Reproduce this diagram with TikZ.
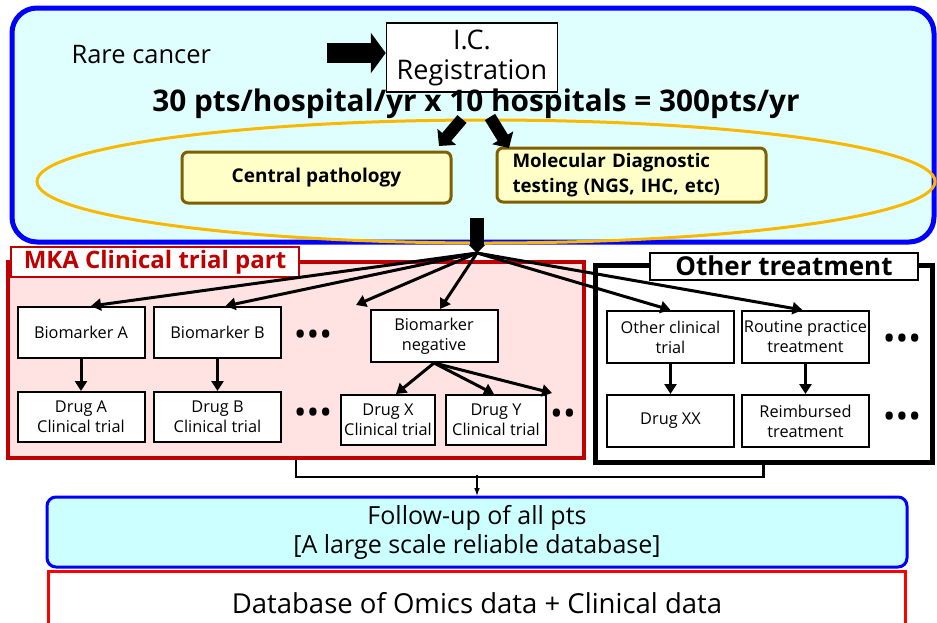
\documentclass[tikz,border=0pt]{standalone}
\usepackage{fontspec}
\setmainfont{Open Sans}
\usetikzlibrary{arrows.meta}
\tikzset{>=latex}
\usepackage{xcolor}
\definecolor{skyfill}{HTML}{DFFFFF}
\definecolor{followfill}{HTML}{CCFFFF}
\definecolor{mkared}{HTML}{C00000}
\definecolor{mkafill}{HTML}{FFE3E3}
\definecolor{olive}{HTML}{7F6000}
\definecolor{paleyel}{HTML}{FFFFC8}
\definecolor{gold}{HTML}{F8B800}
\tikzstyle{box}=[draw,line width=2pt,fill=white,align=center,inner sep=0pt,
  font=\fontsize{16.3}{20}\selectfont]
\tikzstyle{ybox}=[draw=olive,line width=3pt,fill=paleyel,rounded corners=6pt,
  inner sep=0pt,font=\bfseries\fontsize{19}{22}\selectfont]
\tikzstyle{fan}=[-{Triangle[length=10pt,width=12pt]},line width=3pt]
\tikzstyle{fat}=[line width=12pt,-{Triangle[length=12pt,width=24pt]}]
\tikzstyle{more}=[inner sep=0pt,font=\fontsize{34}{34}\selectfont]

\begin{document}
\begin{tikzpicture}[x=1pt,y=-1pt]
  \clip (0,0) rectangle (937,622);
  \def\bw{127}
  \def\bh{51}
  \coordinate (hub) at (477,253);

  % registration part
  \draw[blue,line width=5pt,fill=skyfill,rounded corners=25pt] (12,8) rectangle (934,242);
  \node[font=\fontsize{25.5}{28}\selectfont,anchor=west] (rare) at (68,55) {Rare cancer};
  \node[box,line width=1.5pt,minimum width=171,minimum height=69,
        font=\fontsize{27}{30}\selectfont] (ic) at (472,57.5) {I.C.\\Registration};
  \coordinate (rareTail) at (327,53);
  \draw[line width=20pt,-{Triangle[length=15pt,width=40pt]}] (rareTail) -- (ic.west |- rareTail);
  \node[font=\bfseries\fontsize{29.8}{32}\selectfont] (pts) at (476,104)
       {30 pts/hospital/yr x 10 hospitals = 300pts/yr};

  \draw[gold,line width=3pt] (486,181.5) ellipse [x radius=449,y radius=61.5];
  \node[ybox,minimum width=269,minimum height=51] (cpath) at (316.5,177.5) {Central pathology};
  \node[ybox,minimum width=269,minimum height=54,text width=238,align=left,
        font=\bfseries\fontsize{18.7}{25}\selectfont] (moldx) at (631.5,175)
       {Molecular Diagnostic\\testing (NGS, IHC, etc)};

  \coordinate (ptsL) at (462,119);
  \coordinate (ptsR) at (490,117);
  \draw[fat] (ptsL) -- (439,146);
  \draw[fat] (ptsR) -- (509,148);
  \coordinate (padTop) at (477,218);
  \draw[line width=14pt,-{Triangle[length=8pt,width=16pt]}] (padTop) -- (hub);

  % MKA
  \node[draw=mkared,line width=4pt,fill=mkafill,minimum width=576,minimum height=196,
        inner sep=0pt] (mka) at (296,360) {};
  \node[draw=mkared,line width=2.5pt,fill=white,minimum width=288,minimum height=30,
        inner sep=0pt,text=mkared,font=\bfseries\fontsize{24}{27}\selectfont] (mkaTab)
        at (155,262) {MKA Clinical trial part};

  % Other
  \node[draw,line width=5pt,fill=white,minimum width=337,minimum height=197,
        inner sep=0pt] (other) at (763.5,363.5) {};
  \node[draw,line width=2pt,fill=white,minimum width=268,minimum height=27,
        inner sep=0pt,font=\bfseries\fontsize{26}{29}\selectfont] (otherTab)
        at (784,266) {Other treatment};

  \node[box,minimum width=\bw,minimum height=\bh] (bioA) at (81,332.5) {Biomarker A};
  \node[box,minimum width=\bw,minimum height=\bh] (bioB) at (217.5,332.5) {Biomarker B};
  \node[box,minimum width=\bw,minimum height=52] (bioNeg) at (434,336) {Biomarker\\negative};
  \node[box,minimum width=\bw,minimum height=50] (drugA) at (81,417) {Drug A\\Clinical trial};
  \node[box,minimum width=\bw,minimum height=50] (drugB) at (217.5,417) {Drug B\\Clinical trial};
  \node[box,minimum width=94,minimum height=50] (drugX) at (388,420) {Drug X\\Clinical trial};
  \node[box,minimum width=100,minimum height=50] (drugY) at (496,420) {Drug Y\\Clinical trial};

  \node[box,minimum width=\bw,minimum height=52] (othCT) at (670.5,337) {Other clinical\\trial};
  \node[box,minimum width=\bw,minimum height=52] (routine) at (805.5,337) {Routine practice\\treatment};
  \node[box,minimum width=\bw,minimum height=52] (drugXX) at (670.5,421) {Drug XX};
  \node[box,minimum width=\bw,minimum height=52] (reimb) at (805.5,421) {Reimbursed\\treatment};

  \foreach \n/\x/\y/\s in {dA/313/338/\textbullet\textbullet\textbullet,
                           dB/313/416/\textbullet\textbullet\textbullet,
                           dC/563/417/\textbullet\textbullet,
                           dD/902/342/\textbullet\textbullet\textbullet,
                           dE/902/420/\textbullet\textbullet\textbullet}
    \node[more] (\n) at (\x,\y) {\s};

  \coordinate (moreBio) at (356,305);
  \coordinate (moreDrug) at (552,393);
  \draw[fan] (hub) -- ([xshift=10pt]bioA.north);
  \draw[fan] (hub) -- ([xshift=8pt]bioB.north);
  \draw[fan] (hub) -- (moreBio);
  \draw[fan] (hub) -- ([xshift=6pt]bioNeg.north);
  \draw[fan] (hub) -- (othCT.north);
  \draw[fan] (hub) -- ([xshift=-3pt]routine.north);

  \draw[fan] (bioA) -- (drugA);
  \draw[fan] (bioB) -- (drugB);
  \draw[fan] (bioNeg.south) -- ([xshift=8pt]drugX.north);
  \draw[fan] (bioNeg.south) -- ([xshift=-2pt]drugY.north);
  \draw[fan] (bioNeg.south) -- (moreDrug);
  \draw[fan] (othCT) -- (drugXX);
  \draw[fan] (routine) -- (reimb);

  % follow-up
  \node[draw=blue,line width=3pt,fill=followfill,rounded corners=9pt,minimum width=860,
        minimum height=70,inner sep=0pt,align=center,
        font=\fontsize{25}{29}\selectfont] (follow) at (477,532)
        {Follow-up of all pts\\{}[A large scale reliable database]};
  \node[draw=red,line width=3pt,fill=white,minimum width=857,minimum height=64,
        inner sep=0pt,font=\fontsize{27.5}{29}\selectfont] (omics) at (477,603)
        {Database of Omics data + Clinical data};
  \coordinate (join) at (477,475);
  \draw[line width=2.5pt] (mka.south) -- ++(0,17) -| (other.south);
  \draw[->,line width=1.5pt] (join) -- (follow.north);
\end{tikzpicture}
\end{document}
